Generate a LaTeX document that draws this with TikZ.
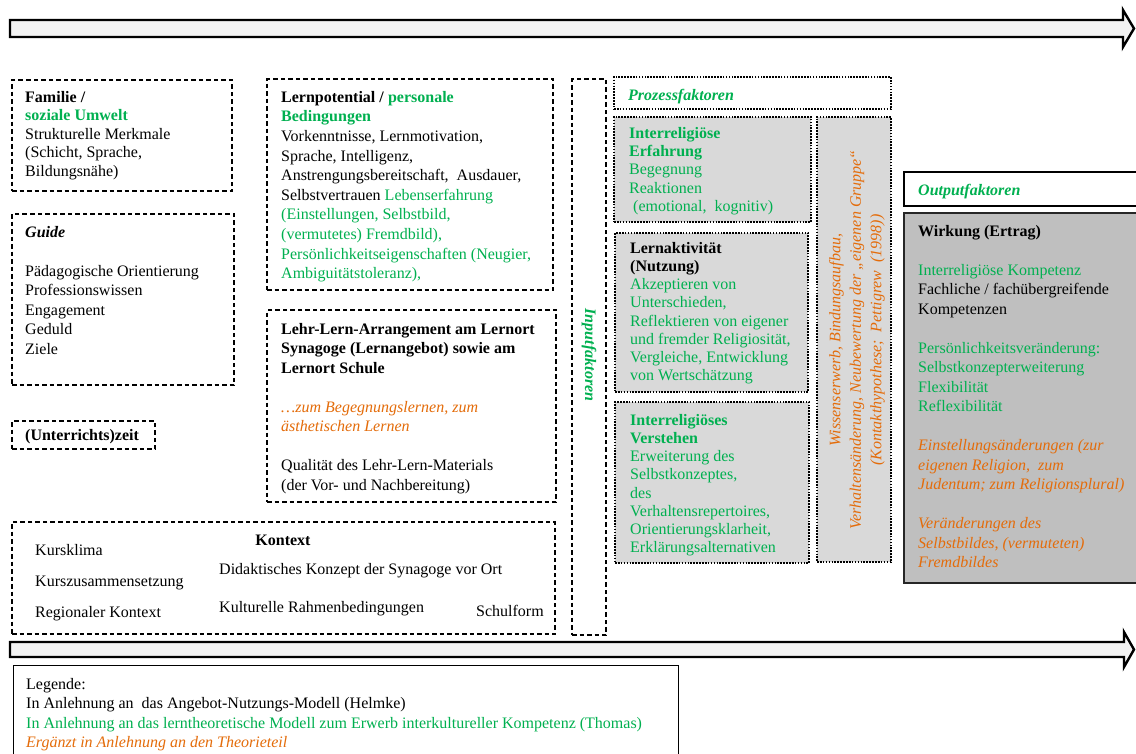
\documentclass[tikz,border=0pt]{standalone}
\usepackage{fontspec}
\setmainfont{Liberation Serif}
\usetikzlibrary{fit}
\definecolor{kgreen}{HTML}{00B050}
\definecolor{korange}{HTML}{E46C0A}
\definecolor{arrowfill}{HTML}{F2F2F2}
\definecolor{procfill}{HTML}{D9D9D9}
\definecolor{outfill}{HTML}{BFBFBF}
\begin{document}
\begin{tikzpicture}[x=1pt,y=-1pt,
  dbox/.style={draw=black, line width=1.1pt, dash pattern=on 4.5pt off 3pt, fill=white, inner sep=0pt},
  pbox/.style={draw=black, line width=2.4pt, dash pattern=on 1.6pt off 1.3pt, fill=procfill, inner sep=0pt},
  hbox/.style={draw=black, line width=2.4pt, dash pattern=on 1.6pt off 1.3pt, fill=white, inner sep=0pt},
  obox/.style={draw=black, line width=1.1pt, fill=white, inner sep=0pt},
  wbox/.style={draw=black!85, line width=1.1pt, fill=outfill, inner sep=0pt},
  lbox/.style={draw=black, line width=1pt, fill=white, inner sep=0pt},
  flow/.style={draw=black, line width=2.4pt, fill=arrowfill, line join=miter},
  tb/.style={anchor=north west, align=left, inner sep=0pt, font=\fontsize{16}{#1}\selectfont},
  tb/.default=19.5,
  one/.style={anchor=base west, inner sep=0pt, font=\fontsize{16}{19.5}\selectfont},
]
\useasboundingbox (0,0) rectangle (1136,753);

% time arrows, top and bottom
\path[flow] (10,20) -- (1123,20) -- (1123,10) -- (1134,28.5) -- (1123,47) -- (1123,37) -- (10,37) -- cycle;
\path[flow] (10,642) -- (1124,642) -- (1124,632) -- (1134,649.5) -- (1124,667) -- (1124,657) -- (10,657) -- cycle;

% input boxes
\node[dbox, fit={(12,80) (232,191)}] (familie) {};
\node[dbox, fit={(12,214) (234,385)}] (guide) {};
\node[dbox, fit={(12,421) (155,449)}] (zeit) {};
\node[dbox, fit={(267,79) (553,290)}] (lernpot) {};
\node[dbox, fit={(267,310) (556,502)}] (arrangement) {};
\node[dbox, fit={(12,522) (555,634)}] (kontext) {};
\node[dbox, fit={(572,79) (606,635)}] (input) {};

% process boxes
\node[hbox, fit={(614,77) (891,109)}] (prozess) {};
\node[pbox, fit={(614,117) (811,222)}] (erfahrung) {};
\node[pbox, fit={(615,233) (808,392)}] (nutzung) {};
\node[pbox, fit={(615,402) (809,563)}] (verstehen) {};
\node[pbox, fit={(817,117) (891,562)}] (kontakt) {};

% output boxes
\node[obox, fit={(904,172) (1142,206)}] (output) {};
\node[wbox, fit={(904,213) (1142,583)}] (wirkung) {};

% legend
\node[lbox, fit={(13,665) (678,775)}] (legende) {};

% texts of the input boxes
\node[tb=18.5] (tFamilie) at (25,89) {\strut\textbf{Familie /}\\
  \textcolor{kgreen}{\textbf{soziale Umwelt}}\\
  Strukturelle Merkmale\\
  (Schicht, Sprache,\\
  Bildungsnähe)};
\node[tb] (tGuide) at (25,223.4) {\strut\textbf{\textit{Guide}}\\[19.5pt]
  Pädagogische Orientierung\\
  Professionswissen\\
  Engagement\\
  Geduld\\
  Ziele};
\node[one] (tZeit) at (25,440) {\textbf{(Unterrichts)zeit}};
\node[tb=19.6] (tLernpot) at (281,88.3) {\strut\textbf{Lernpotential /} \textcolor{kgreen}{\textbf{personale}}\\
  \textcolor{kgreen}{\textbf{Bedingungen}}\\
  Vorkenntnisse, Lernmotivation,\\
  Sprache, Intelligenz,\\
  Anstrengungsbereitschaft, \ Ausdauer,\\
  Selbstvertrauen \textcolor{kgreen}{Lebenserfahrung}\\
  \textcolor{kgreen}{(Einstellungen, Selbstbild,}\\
  \textcolor{kgreen}{(vermutetes) Fremdbild),}\\
  \textcolor{kgreen}{Persönlichkeitseigenschaften (Neugier,}\\
  \textcolor{kgreen}{Ambiguitätstoleranz),}};
\node[tb] (tArrangement) at (281,320.4) {\strut\textbf{Lehr-Lern-Arrangement am Lernort}\\
  \textbf{Synagoge (Lernangebot) sowie am}\\
  \textbf{Lernort Schule}\\[19.5pt]
  \textcolor{korange}{\textit{…zum Begegnungslernen, zum}}\\
  \textcolor{korange}{\textit{ästhetischen Lernen}}\\[19.5pt]
  Qualität des Lehr-Lern-Materials\\
  (der Vor- und Nachbereitung)};
\node[rotate=-90, inner sep=0pt, font=\fontsize{16}{19.5}\selectfont\bfseries\itshape, text=kgreen] (tInput) at (589,355) {Inputfaktoren};

% context
\node[anchor=base, inner sep=0pt, font=\fontsize{16}{19.5}\selectfont\bfseries] (tKontext) at (283,545) {Kontext};
\node[one] (tKlima) at (35,555) {Kursklima};
\node[one] (tZusammen) at (35,586) {Kurszusammensetzung};
\node[one] (tRegion) at (35,617) {Regionaler Kontext};
\node[one] (tDidaktik) at (219,574) {Didaktisches Konzept der Synagoge vor Ort};
\node[one] (tKultur) at (219,612) {Kulturelle Rahmenbedingungen};
\node[one] (tSchulform) at (476,616) {Schulform};

% texts of the process boxes
\node[one, font=\fontsize{16}{19.5}\selectfont\bfseries\itshape, text=kgreen] (tProzess) at (628,100) {Prozessfaktoren};
\node[tb=18.4, text=kgreen] (tErfahrung) at (629,125.1) {\strut\textbf{Interreligiöse}\\
  \textbf{Erfahrung}\\
  Begegnung\\
  Reaktionen\\
  \ (emotional, \ kognitiv)};
\node[tb=18.2] (tNutzung) at (630,240.3) {\strut\textbf{Lernaktivität}\\
  \textbf{(Nutzung)}\\
  \textcolor{kgreen}{Akzeptieren von}\\
  \textcolor{kgreen}{Unterschieden,}\\
  \textcolor{kgreen}{Reflektieren von eigener}\\
  \textcolor{kgreen}{und fremder Religiosität,}\\
  \textcolor{kgreen}{Vergleiche, Entwicklung}\\
  \textcolor{kgreen}{von Wertschätzung}};
\node[tb=18.2, text=kgreen] (tVerstehen) at (630,412.3) {\strut\textbf{Interreligiöses}\\
  \textbf{Verstehen}\\
  Erweiterung des\\
  Selbstkonzeptes,\\
  des\\
  Verhaltensrepertoires,\\
  Orientierungsklarheit,\\
  Erklärungsalternativen};
\node[rotate=90, align=center, inner sep=0pt, font=\fontsize{16}{20.5}\selectfont\itshape, text=korange] (tKontakt) at (857,340) {Wissenserwerb, Bindungsaufbau,\\
  Verhaltensänderung, Neubewertung der „eigenen Gruppe“\\
  (Kontakthypothese; \ Pettigrew \ (1998))};

% texts of the output boxes
\node[one, font=\fontsize{16}{19.5}\selectfont\bfseries\itshape, text=kgreen] (tOutput) at (918,195) {Outputfaktoren};
\node[tb] (tWirkung) at (918,222.4) {\strut\textbf{Wirkung (Ertrag)}\\[19.5pt]
  \textcolor{kgreen}{Interreligiöse Kompetenz}\\
  Fachliche / fachübergreifende\\
  Kompetenzen\\[19.5pt]
  \textcolor{kgreen}{Persönlichkeitsveränderung:}\\
  \textcolor{kgreen}{Selbstkonzepterweiterung}\\
  \textcolor{kgreen}{Flexibilität}\\
  \textcolor{kgreen}{Reflexibilität}\\[19.5pt]
  \textcolor{korange}{\textit{Einstellungsänderungen (zur}}\\
  \textcolor{korange}{\textit{eigenen Religion, \ zum}}\\
  \textcolor{korange}{\textit{Judentum; zum Religionsplural)}}\\[19.5pt]
  \textcolor{korange}{\textit{Veränderungen des}}\\
  \textcolor{korange}{\textit{Selbstbildes, (vermuteten)}}\\
  \textcolor{korange}{\textit{Fremdbildes}}};

% legend text
\node[tb] (tLegende) at (26,675.4) {\strut Legende:\\
  In Anlehnung an \ das Angebot-Nutzungs-Modell (Helmke)\\
  \textcolor{kgreen}{In Anlehnung an das lerntheoretische Modell zum Erwerb interkultureller Kompetenz (Thomas)}\\
  \textcolor{korange}{\textit{Ergänzt in Anlehnung an den Theorieteil}}};
\end{tikzpicture}
\end{document}
